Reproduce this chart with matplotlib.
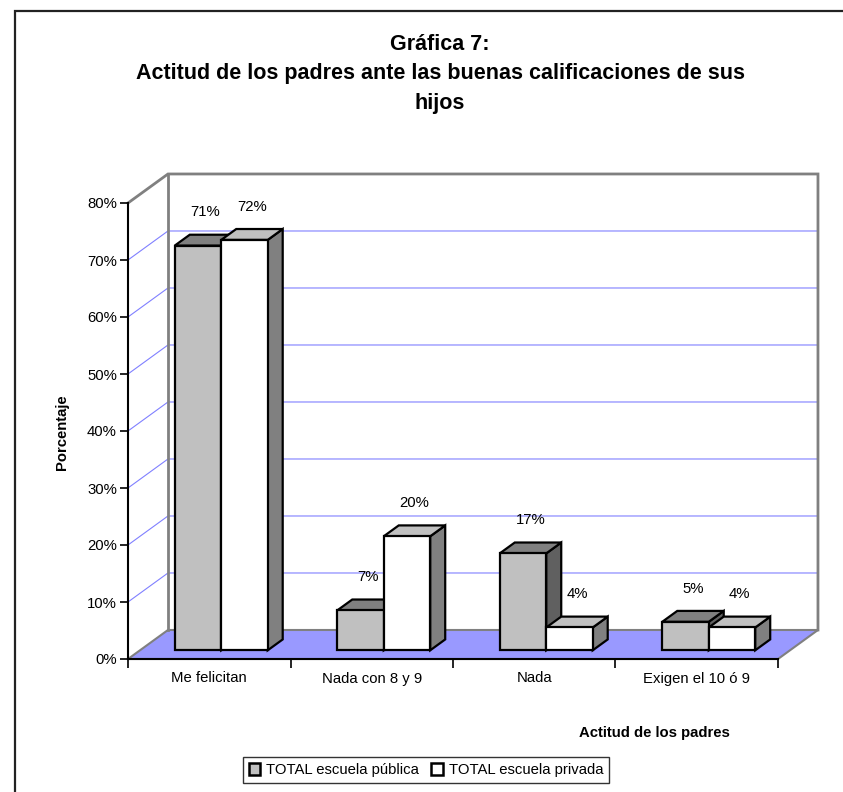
import matplotlib
matplotlib.use("Agg")
import matplotlib.pyplot as plt
from matplotlib.patches import Polygon, Patch, Rectangle
from matplotlib.ticker import FuncFormatter

plt.rcParams['font.family'] = ['Liberation Sans', 'DejaVu Sans']

# data
categories = ["Me felicitan", "Nada con 8 y 9", "Nada", "Exigen el 10 ó 9"]
publica = [71, 7, 17, 5]
privada = [72, 20, 4, 4]
series_names = ["TOTAL escuela pública", "TOTAL escuela privada"]
yticks = [0, 10, 20, 30, 40, 50, 60, 70, 80]

# 3D look: depth of the floor in data units (category units, percent)
DX = 0.246
DY = 5.09
d0, d1 = 0.30, 0.675   # bars sit between these depth fractions
bw = 0.286             # bar width in category units

# colours (front, top, side)
style_pub = ("#C0C0C0", "#808080", "#606060")
style_priv = ("#FFFFFF", "#C0C0C0", "#808080")

fig = plt.figure(figsize=(8.43, 7.92), dpi=100)
ax = fig.add_axes([128 / 843, 133 / 792, 650 / 843, 456 / 792])
n = len(categories)
ymax = yticks[-1]
ax.set_xlim(0, n)
ax.set_ylim(0, ymax)

# walls and floor
wall_c = "#808080"
floor = Polygon([(0, 0), (n, 0), (n + DX, DY), (DX, DY)], closed=True,
                facecolor="#9999FF", edgecolor=wall_c, lw=1.5, zorder=1, clip_on=False)
ax.add_patch(floor)
for v in yticks[1:-1]:
    ax.plot([0, DX, n + DX], [v, v + DY, v + DY], color="#8080FF", lw=0.8,
            zorder=1.2, clip_on=False)
ax.plot([0, DX, n + DX, n + DX], [ymax, ymax + DY, ymax + DY, DY], color=wall_c,
        lw=2, zorder=1.3, clip_on=False, solid_joinstyle="miter")
ax.plot([DX, DX], [DY, ymax + DY], color=wall_c, lw=2, zorder=1.3, clip_on=False)


def draw_box(x0, x1, h, colors):
    front, top, side = colors
    ox0, oy0 = d0 * DX, d0 * DY
    ox1, oy1 = d1 * DX, d1 * DY
    kw = dict(closed=True, edgecolor="black", lw=1.6, zorder=3, clip_on=False,
              joinstyle="miter")
    ax.add_patch(Polygon([(x1 + ox0, oy0), (x1 + ox1, oy1), (x1 + ox1, h + oy1),
                          (x1 + ox0, h + oy0)], facecolor=side, **kw))
    ax.add_patch(Polygon([(x0 + ox0, h + oy0), (x1 + ox0, h + oy0), (x1 + ox1, h + oy1),
                          (x0 + ox1, h + oy1)], facecolor=top, **kw))
    ax.add_patch(Polygon([(x0 + ox0, oy0), (x1 + ox0, oy0), (x1 + ox0, h + oy0),
                          (x0 + ox0, h + oy0)], facecolor=front, **kw))
    ax.annotate(f"{h}%", xy=((x0 + x1) / 2 + (d0 + d1) / 2 * DX, h + (d0 + d1) / 2 * DY),
                xytext=(0, 20), textcoords="offset points", ha="center", va="center",
                fontsize=10.7, zorder=5, annotation_clip=False)


for i in range(n):
    c = i + 0.5
    draw_box(c - bw, c, publica[i], style_pub)
    draw_box(c, c + bw, privada[i], style_priv)

# axes
for s in ["top", "right"]:
    ax.spines[s].set_visible(False)
for s in ["left", "bottom"]:
    ax.spines[s].set_color("black")
    ax.spines[s].set_linewidth(1.5)
    ax.spines[s].set_zorder(2)
ax.set_yticks(yticks)
ax.yaxis.set_major_formatter(FuncFormatter(lambda v, p: f"{v:.0f}%"))
ax.tick_params(axis="y", length=6, width=1.2, labelsize=10.7, pad=2)
ax.set_xticks(range(n + 1))
ax.set_xticklabels([])
ax.set_xticks([i + 0.5 for i in range(n)], minor=True)
ax.set_xticklabels(categories, minor=True)
ax.tick_params(axis="x", which="major", length=6.5, width=1.2)
ax.tick_params(axis="x", which="minor", length=0, labelsize=10.7, pad=9)
ax.patch.set_visible(False)

# texts
fig.text(440 / 843, 1 - 74 / 792,
         "Gráfica 7:\nActitud de los padres ante las buenas calificaciones de sus\nhijos",
         ha="center", va="center", fontsize=15.5, fontweight="bold", linespacing=1.5)
fig.text(62 / 843, 1 - 432 / 792, "Porcentaje", rotation=90, ha="center", va="center",
         fontsize=10.7, fontweight="bold")
fig.text(654 / 843, 1 - 733 / 792, "Actitud de los padres", ha="center", va="center",
         fontsize=10.7, fontweight="bold")

handles = [Patch(facecolor=style_pub[0], edgecolor="black", lw=1.8),
           Patch(facecolor=style_priv[0], edgecolor="black", lw=1.8)]
leg = fig.legend(handles, series_names, loc="center", bbox_to_anchor=(426 / 843, 1 - 770 / 792),
                 ncol=2, frameon=True, fancybox=False, edgecolor="black", fontsize=10.7,
                 handlelength=0.8, handleheight=0.8, handletextpad=0.4, columnspacing=0.8,
                 borderpad=0.4, borderaxespad=0)
leg.get_frame().set_linewidth(1)

# outer border of the chart area (right and bottom edges fall outside the picture)
fig.add_artist(Rectangle((14.5 / 843, -0.1), 1.0, 1.1 - 11 / 792,
                         transform=fig.transFigure, fill=False, ec="#222222", lw=1.6))

fig.savefig("out.png", dpi=100)
